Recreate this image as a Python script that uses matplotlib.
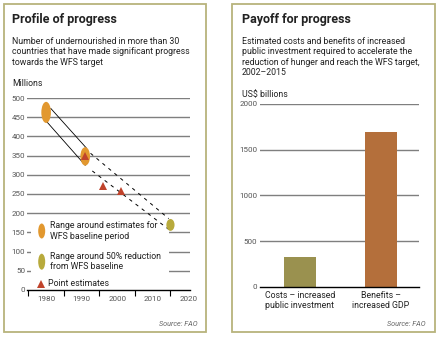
import matplotlib
matplotlib.use("Agg")
import matplotlib.pyplot as plt
from matplotlib.patches import Ellipse, Rectangle

# ---------------- data ----------------
# Left panel: undernourished (millions)
baseline_years = [1980, 1991]
baseline_low = [435, 324]
baseline_high = [490, 372]
target_year = [2015]
target_low = [154]
target_high = [185]
point_years = [1991, 1996, 2001]
point_values = [350, 270, 258]
band_solid_upper_x = [1981.3, 1991.4]
band_solid_upper_y = [473, 369]
band_solid_lower_x = [1980.2, 1991.0]
band_solid_lower_y = [438, 325]
band_dash_upper_x = [1992.5, 2014.5]
band_dash_upper_y = [356, 186]
band_dash_lower_x = [1993.0, 2014.5]
band_dash_lower_y = [310, 158]
left_yticks = [0, 50, 100, 150, 200, 250, 300, 350, 400, 450, 500]
left_xticks = [1980, 1990, 2000, 2010, 2020]
left_minor_xticks = [1975, 1985, 1995, 2005, 2015, 2020]

# Right panel: costs and benefits (US$ billions)
bar_categories = ["Costs \u2013 increased\npublic investment", "Benefits \u2013\nincreased GDP"]
bar_values = [330, 1690]
right_yticks = [0, 500, 1000, 1500, 2000]

# ---------------- style ----------------
FONT = ["Roboto", "DejaVu Sans"]
plt.rcParams["font.family"] = FONT
W, H = 438, 337
TXT = "#222222"
TICK = "#555555"
GRID = "#7f7f7f"
BORDER = "#b8b37c"
C_ORANGE = "#e2982f"
C_OLIVE = "#b8aa3c"
C_RED = "#c0432b"
C_COST = "#9a914f"
C_BEN = "#b46f3b"
FS = 6.3


def fx(px):
    return px / W


def fy(py):
    return 1 - py / H


fig = plt.figure(figsize=(W / 100, H / 100), dpi=100)
fig.patch.set_facecolor("white")

# panel borders
for x0, x1 in [(3.5, 205.5), (231.5, 434.5)]:
    fig.patches.append(Rectangle((fx(x0), fy(332)), fx(x1) - fx(x0), fy(4) - fy(332),
                                 transform=fig.transFigure, fill=False,
                                 edgecolor=BORDER, linewidth=1.3, zorder=0))

# ---------------- left panel ----------------
fig.text(fx(12), fy(19.5), "Profile of progress", fontsize=9.0, fontweight="bold",
         color=TXT, va="center", ha="left")
fig.text(fx(12), fy(37), "Number of undernourished in more than 30\n"
         "countries that have made significant progress\ntowards the WFS target",
         fontsize=FS, color=TXT, va="top", ha="left", linespacing=1.2)
fig.text(fx(12), fy(84), "Millions", fontsize=FS, color=TXT, va="center", ha="left")

axL = fig.add_axes([fx(27.3), fy(290), fx(190) - fx(27.3), fy(98) - fy(290)])
axL.set_xlim(1974.7, 2020.5)
axL.set_ylim(0, 500)
for s in ["top", "right", "left"]:
    axL.spines[s].set_visible(False)
axL.spines["bottom"].set_color("black")
axL.spines["bottom"].set_linewidth(1.0)
axL.set_yticks(left_yticks)
axL.set_yticklabels([str(v) for v in left_yticks])
axL.tick_params(axis="y", length=0, pad=1.5, labelsize=5.8, labelcolor=TICK)
axL.set_xticks(left_xticks)
axL.set_xticklabels([str(v) for v in left_xticks])
axL.set_xticks(left_minor_xticks, minor=True)
axL.tick_params(axis="x", which="major", length=0, pad=4, labelsize=5.8, labelcolor=TICK)
axL.tick_params(axis="x", which="minor", length=4, width=0.8, color="black", direction="out")
axL.set_axisbelow(True)
for v in left_yticks[1:]:
    axL.axhline(v, color=GRID, linewidth=1.0, zorder=0.5)

# legend backdrop
axL.add_patch(Rectangle((0.023, 0.01), 0.848, 0.36, transform=axL.transAxes,
                        facecolor="white", edgecolor="none", zorder=1))

# band lines
axL.plot(band_solid_upper_x, band_solid_upper_y, color="black", lw=0.6, zorder=2)
axL.plot(band_solid_lower_x, band_solid_lower_y, color="black", lw=0.6, zorder=2)
axL.plot(band_dash_upper_x, band_dash_upper_y, color="black", lw=0.7,
         linestyle=(0, (3.5, 4.5)), zorder=2)
axL.plot(band_dash_lower_x, band_dash_lower_y, color="black", lw=0.7,
         linestyle=(0, (3.5, 4.5)), zorder=2)

for yr, lo, hi in zip(baseline_years, baseline_low, baseline_high):
    axL.add_patch(Ellipse((yr, (lo + hi) / 2), width=2.7, height=hi - lo,
                          facecolor=C_ORANGE, edgecolor="none", zorder=3))
for yr, lo, hi in zip(target_year, target_low, target_high):
    axL.add_patch(Ellipse((yr, (lo + hi) / 2), width=2.3, height=hi - lo,
                          facecolor=C_OLIVE, edgecolor="none", zorder=3))
axL.plot(point_years, point_values, linestyle="none", marker="^", markersize=6,
         color=C_RED, markeredgewidth=0, zorder=4)


# legend items (axes coords)
def ax_x(px):
    return (px - 27.3) / (190 - 27.3)


def ax_y(py):
    return (290 - py) / (290 - 98)


axL.add_patch(Ellipse((ax_x(41.7), ax_y(231)), width=7 / 162.7, height=15 / 192,
                      transform=axL.transAxes, facecolor=C_ORANGE, edgecolor="none", zorder=3))
axL.add_patch(Ellipse((ax_x(41.7), ax_y(261.7)), width=7 / 162.7, height=16 / 192,
                      transform=axL.transAxes, facecolor=C_OLIVE, edgecolor="none", zorder=3))
axL.plot([ax_x(41.3)], [ax_y(284)], transform=axL.transAxes, marker="^", markersize=6,
         color=C_RED, markeredgewidth=0, linestyle="none", zorder=4, clip_on=False)
axL.text(ax_x(49.5), ax_y(231), "Range around estimates for\nWFS baseline period",
         transform=axL.transAxes, fontsize=FS, color=TXT, va="center", ha="left",
         linespacing=1.15, zorder=5)
axL.text(ax_x(50.5), ax_y(261.7), "Range around 50% reduction\nfrom WFS baseline",
         transform=axL.transAxes, fontsize=FS, color=TXT, va="center", ha="left",
         linespacing=1.15, zorder=5)
axL.text(ax_x(48), ax_y(284), "Point estimates",
         transform=axL.transAxes, fontsize=FS, color=TXT, va="center", ha="left", zorder=5)

fig.text(fx(197.5), fy(324), "Source: FAO", fontsize=5.2, style="italic",
         color="#666666", va="center", ha="right")

# ---------------- right panel ----------------
fig.text(fx(242), fy(19.5), "Payoff for progress", fontsize=9.0, fontweight="bold",
         color=TXT, va="center", ha="left")
fig.text(fx(242), fy(37), "Estimated costs and benefits of increased\n"
         "public investment required to accelerate the\n"
         "reduction of hunger and reach the WFS target,\n2002\u20132015",
         fontsize=FS, color=TXT, va="top", ha="left", linespacing=1.2)
fig.text(fx(242), fy(95), "US$ billions", fontsize=FS, color=TXT, va="center", ha="left")

axR = fig.add_axes([fx(259.5), fy(286.7), fx(419) - fx(259.5), fy(104) - fy(286.7)])
axR.set_xlim(-0.5, 1.47)
axR.set_ylim(0, 2000)
for s in ["top", "right", "left"]:
    axR.spines[s].set_visible(False)
axR.spines["bottom"].set_color("black")
axR.spines["bottom"].set_linewidth(1.0)
axR.set_yticks(right_yticks)
axR.set_yticklabels([str(v) for v in right_yticks])
axR.tick_params(axis="y", length=0, pad=1.5, labelsize=5.8, labelcolor=TICK)
for v in right_yticks[1:]:
    axR.axhline(v, color=GRID, linewidth=1.0, zorder=0.5)
axR.bar(range(len(bar_values)), bar_values, width=0.4, color=[C_COST, C_BEN], zorder=2)
axR.set_xticks(range(len(bar_categories)))
axR.set_xticklabels(bar_categories, fontsize=FS, color=TXT, linespacing=1.2)
axR.tick_params(axis="x", length=0, pad=3)

fig.text(fx(426), fy(324), "Source: FAO", fontsize=5.2, style="italic",
         color="#666666", va="center", ha="right")

fig.savefig("out.png", dpi=100, facecolor="white")
